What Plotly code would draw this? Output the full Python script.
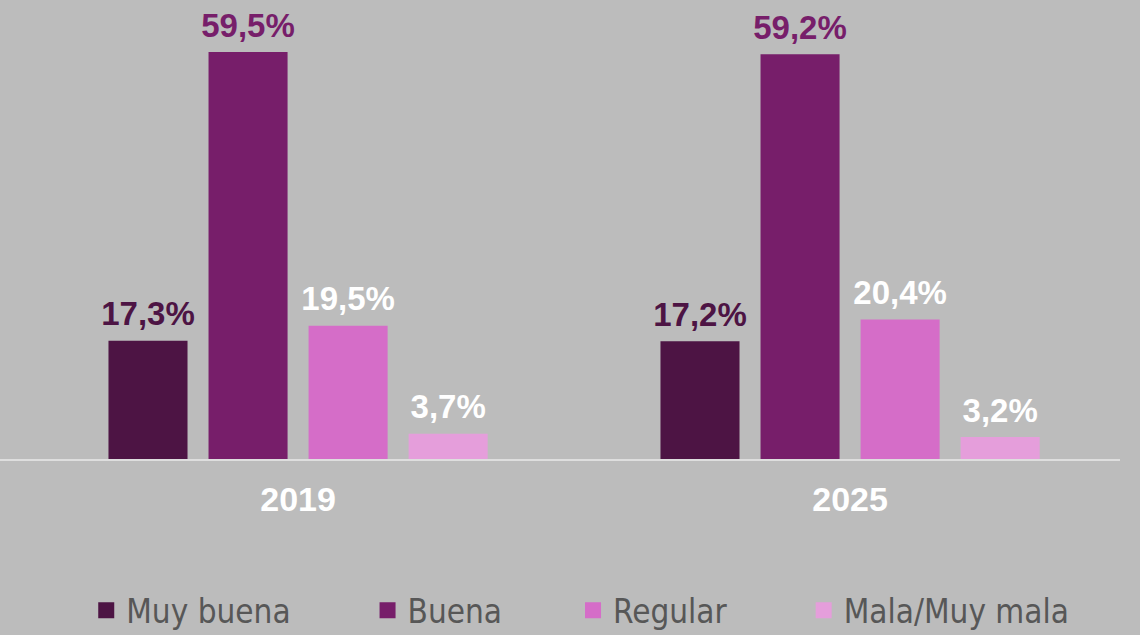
import plotly.graph_objects as go

years = ["2019", "2025"]
series = ["Muy buena", "Buena", "Regular", "Mala/Muy mala"]
values = {
    "Muy buena": [17.3, 17.2],
    "Buena": [59.5, 59.2],
    "Regular": [19.5, 20.4],
    "Mala/Muy mala": [3.7, 3.2],
}
labels = {
    "Muy buena": ["17,3%", "17,2%"],
    "Buena": ["59,5%", "59,2%"],
    "Regular": ["19,5%", "20,4%"],
    "Mala/Muy mala": ["3,7%", "3,2%"],
}
colors = ["#4d1444", "#771e6a", "#d56dc8", "#e59edb"]
label_colors = ["#4d1444", "#771e6a", "#ffffff", "#ffffff"]
nb = "\u00a0" * 7
pads = [nb + "\u2009", nb, nb + "\u2009", ""]

fig = go.Figure()
for s, c in zip(series, colors):
    fig.add_trace(go.Bar(
        name=s, x=years, y=values[s],
        marker=dict(color=c, line=dict(width=0)), showlegend=False,
    ))
for s, lc in zip(series, label_colors):
    fig.add_trace(go.Scatter(
        name=s, x=years, y=values[s], text=labels[s], mode="markers+text",
        marker=dict(size=10, opacity=0), textposition="top center",
        cliponaxis=False, showlegend=False, hoverinfo="skip",
        textfont=dict(family="Liberation Sans", size=33, color=lc, weight="bold"),
    ))
for s, c, p in zip(series, colors, pads):
    fig.add_trace(go.Scatter(
        name=s + p, x=[None], y=[None], mode="markers",
        marker=dict(symbol="square", size=16, color=c), showlegend=True,
        xaxis="x2", yaxis="y2",
    ))

fig.update_layout(
    width=1140, height=635,
    paper_bgcolor="#bcbcbc", plot_bgcolor="#bcbcbc",
    margin=dict(l=0, r=20, t=35, b=176),
    barmode="group", bargap=0.275, bargroupgap=0.21,
    scattermode="group", scattergap=0.275,
    legend=dict(orientation="h", x=0.077, xanchor="left",
                yref="container", y=0.039, yanchor="middle",
                font=dict(family="DejaVu Sans Condensed", size=33, color="#575757"),
                bgcolor="rgba(0,0,0,0)", itemsizing="trace"),
    xaxis=dict(type="category", range=[-0.54, 1.489], showline=True, linecolor="#dedede",
               linewidth=2, showgrid=False, zeroline=False, ticks="",
               ticklabelstandoff=9,
               tickfont=dict(family="Liberation Sans", size=34, color="#ffffff", weight="bold")),
    yaxis=dict(range=[0, 62], visible=False, showgrid=False, zeroline=False),
    xaxis2=dict(overlaying="x", visible=False),
    yaxis2=dict(overlaying="y", visible=False),
)

fig.write_html("out.html", config={"displayModeBar": False},
               post_script="document.body.style.margin='0';document.body.style.background='#bcbcbc';")
